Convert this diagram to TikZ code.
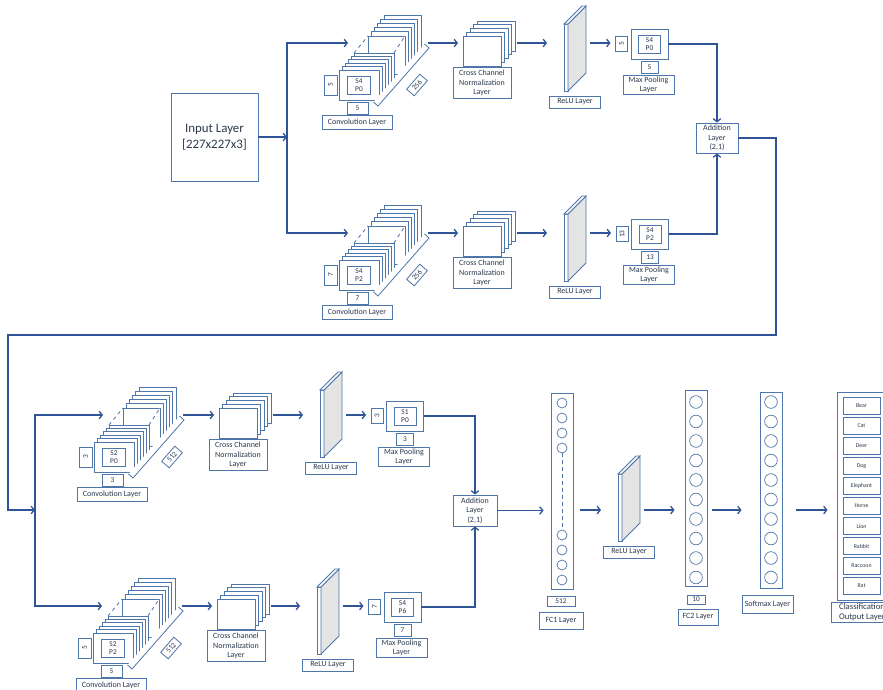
\documentclass[tikz,border=0pt]{standalone}
\usepackage{fontspec}
\setmainfont{Carlito}
\usepackage{tikz}
\usetikzlibrary{
arrows.meta,
calc
}
\definecolor{lineblue}{HTML}{2F5597}
\definecolor{boxblue}{HTML}{4F76A8}
\definecolor{slabgray}{HTML}{E4E4E4}
\definecolor{labeltext}{HTML}{2B3A4F}

\newcommand{\lblfont}{\fontsize{6.8}{8.2}\selectfont}
\newcommand{\tagfont}{\fontsize{6.3}{7.2}\selectfont}
\newcommand{\itemfont}{\fontsize{5}{6}\selectfont}
\newcommand{\inputfont}{\fontsize{11}{13.5}\selectfont}
\newcommand{\clsfont}{\fontsize{7.4}{8.8}\selectfont}

% convolution block: name, x, row y, stride/pad, kernel, filters
\newcommand{\convblock}[6]{%
  \begin{scope}[shift={(#2,#3+27)}]
    \foreach \i in {5,4,...,0}
      \draw[frame] (29+3.2*\i,-34-4.2*\i) rectangle ++(37,38);
    \draw[frame, dashed] (15,-17) -- (29,-34);
    \draw[frame, dashed] (55,-17) -- (66,-34);
    \draw[frame, dashed] (55,13) -- (66,4);
    \foreach \i in {5,4,...,0}
      \draw[frame] (3*\i,-3.4*\i) rectangle ++(40,30);
    \node[tag, minimum width=6.9mm, minimum height=5.4mm] (#1) at (20,15) {#4};
    \node[tag, rotate=90, minimum width=6mm, minimum height=3.9mm] (#1-k1) at (-8.5,15) {#5};
    \node[tag, minimum width=6.3mm, minimum height=3.6mm] (#1-k2) at (18.5,38) {#5};
    \node[lbl, minimum width=21mm, minimum height=4.2mm] (#1-lbl) at (18,52) {Convolution Layer};
    \draw[frame] (85.5,-26) -- (90,-22) -- (39,36) -- (34.5,32);
    \node[tag, rotate=49, minimum width=6mm, minimum height=3mm] (#1-d) at (78,15) {#6};
    \coordinate (#1-in) at (9,-27);
    \coordinate (#1-out) at (89,-27);
  \end{scope}}

% cross channel normalization block: name, x, row y
\newcommand{\ccnblock}[3]{%
  \begin{scope}[shift={(#2,#3-7)}]
    \foreach \i in {4,3,...,0}
      \draw[frame] (3.5*\i,-3.75*\i) rectangle ++(38,30);
    \node[lbl, minimum width=17.4mm, minimum height=9.3mm] (#1) at (19,47) {Cross Channel\\Normalization\\Layer};
    \coordinate (#1-in) at (-5,7);
    \coordinate (#1-out) at (54,7);
  \end{scope}}

% relu slab: [drop], name, x, row y
\newcommand{\relublock}[4][19]{%
  \begin{scope}[shift={(#3,#4-#1)}]
    \draw[frame] (0,0) rectangle (4,67);
    \draw[frame, fill=slabgray] (4,0) -- (22,-18) -- (22,49) -- (4,67) -- cycle;
    \draw[frame] (0,0) -- (18,-18) -- (22,-18) -- (4,0) -- cycle;
    \node[lbl, minimum width=15.3mm] (#2) at (11,78) {ReLU Layer};
    \coordinate (#2-in) at (-17,#1);
    \coordinate (#2-out) at (26,#1);
  \end{scope}}

% max pooling block: name, x, row y, stride/pad, pool size
\newcommand{\maxpool}[5]{%
  \begin{scope}[shift={(#2,#3)}]
    \node[frame, minimum width=11.1mm, minimum height=9mm] (#1) at (0,1) {};
    \node[tag, minimum width=6.6mm, minimum height=5.4mm] (#1-s) at (0,1) {#4};
    \node[tag, rotate=90, minimum width=4.5mm, minimum height=3.6mm] (#1-k1) at (-28,1) {#5};
    \node[tag, minimum width=5.1mm, minimum height=3.6mm] (#1-k2) at (0,24) {#5};
    \node[lbl, minimum width=15.3mm, minimum height=5.7mm] (#1-lbl) at (-1,42) {Max Pooling\\Layer};
    \coordinate (#1-in) at (-39,0);
  \end{scope}}

\begin{document}
\begin{tikzpicture}[x=0.3mm, y=-0.3mm,
  every node/.style={font=\lblfont, text=labeltext},
  frame/.style={draw=boxblue, line width=0.7pt, fill=white},
  lbl/.style={draw=boxblue, line width=0.8pt, fill=white, align=center, inner sep=1pt, minimum height=3.6mm},
  tag/.style={draw=boxblue, line width=0.7pt, fill=white, align=center, inner sep=0.8pt, font=\tagfont},
  arr/.style={draw=lineblue, line width=1.1pt, -{Straight Barb[length=2.6pt,width=6.5pt]}},
  fcbox/.style={draw=boxblue, line width=0.8pt, fill=white, minimum width=6.6mm, minimum height=58.8mm},
  unit/.style={draw=boxblue, line width=0.6pt}]
  \useasboundingbox (0,0) rectangle (883,689);
  \clip (0,0) rectangle (883,689);

  % Input
  \node[lbl, font=\inputfont, minimum width=26.1mm, minimum height=26.4mm] (input) at (214.5,137) {Input Layer\\ {[227x227x3]}};

  % First stage, two branches
  \convblock{convA}{339}{43}{S4\\P0}{5}{256}
  \convblock{convB}{339}{233}{S4\\P2}{7}{256}
  \ccnblock{ccnA}{463}{43}
  \ccnblock{ccnB}{463}{233}
  \relublock{reluA}{564}{43}
  \relublock{reluB}{564}{233}
  \maxpool{maxA}{649.5}{43}{S4\\P0}{5}
  \maxpool{maxB}{650}{233}{S4\\P2}{13}

  \coordinate (split1) at (287,137);
  \draw[arr] (input) -- (split1);
  \draw[arr] (split1) |- (convA-in);
  \draw[arr] (split1) |- (convB-in);
  \draw[arr] (convA-out) -- (ccnA-in);
  \draw[arr] (ccnA-out) -- (reluA-in);
  \draw[arr] (reluA-out) -- (maxA-in);
  \draw[arr] (convB-out) -- (ccnB-in);
  \draw[arr] (ccnB-out) -- (reluB-in);
  \draw[arr] (reluB-out) -- (maxB-in);

  \node[lbl, minimum width=12.6mm, minimum height=9mm] (add1) at (717,138) {Addition\\Layer\\(2,1)};
  \draw[arr] (maxA.east) -| (add1.north);
  \draw[arr] (maxB.east) -| (add1.south);

  % Return to second stage
  \coordinate (ret1) at (776,335);
  \coordinate (ret2) at (8,335);
  \coordinate (split2) at (35,510);
  \draw[arr] (add1.east) -| (ret1) -- (ret2) |- (split2);

  % Second stage, two branches
  \convblock{convC}{94}{415}{S2\\P0}{3}{512}
  \convblock{convD}{93}{606}{S2\\P2}{5}{512}
  \ccnblock{ccnC}{219}{415}
  \ccnblock{ccnD}{217}{606}
  \relublock[25]{reluC}{320}{415}
  \relublock{reluD}{317}{606}
  \maxpool{maxC}{405}{415}{S1\\P0}{3}
  \maxpool{maxD}{402.5}{606}{S4\\P6}{7}

  \draw[arr] (split2) |- (convC-in);
  \draw[arr] (split2) |- (convD-in);
  \draw[arr] (convC-out) -- (ccnC-in);
  \draw[arr] (ccnC-out) -- (reluC-in);
  \draw[arr] (reluC-out) -- (maxC-in);
  \draw[arr] (convD-out) -- (ccnD-in);
  \draw[arr] (ccnD-out) -- (reluD-in);
  \draw[arr] (reluD-out) -- (maxD-in);

  \node[lbl, minimum width=13.2mm, minimum height=9.3mm] (add2) at (475,510.5) {Addition\\Layer\\(2,1)};
  \draw[arr] (maxC.east) -| (add2.north);
  \draw[arr] (maxD.east) -| (add2.south);

  % Fully connected part
  \node[fcbox] (fc1) at (562,491) {};
  \foreach \y in {403,418,433,448,535,550,565,580}
    \draw[unit] (562,\y) circle[radius=1.5mm];
  \draw[unit, dashed] (562,453) -- (562,530);
  \node[tag, minimum width=8.4mm, minimum height=3mm] (fc1-n) at (561,601) {512};
  \node[lbl, minimum width=13.2mm, minimum height=5.1mm] (fc1-lbl) at (561,620.5) {FC1 Layer};
  \draw[arr, shorten >=2.1mm] (add2.east) -- (add2.east -| fc1.west);

  \relublock[36]{reluE}{618}{510}
  \draw[arr, shorten <=2.1mm] (fc1.east |- reluE-in) -- (reluE-in);

  \node[fcbox] (fc2) at (696,488) {};
  \foreach \i in {0,...,9}
    \draw[unit] (696,402+19.5*\i) circle[radius=1.9mm];
  \node[tag, minimum width=5.4mm, minimum height=2.7mm] (fc2-n) at (696,599.5) {10};
  \node[lbl, minimum width=12mm, minimum height=4.8mm] (fc2-lbl) at (698,617) {FC2 Layer};
  \draw[arr, shorten >=3mm] (reluE-out) -- (reluE-out -| fc2.west);

  \node[fcbox] (soft) at (771,490) {};
  \foreach \i in {0,...,9}
    \draw[unit] (771,402+19.5*\i) circle[radius=1.9mm];
  \node[lbl, minimum width=15.3mm, minimum height=5.4mm] (soft-lbl) at (767.5,604) {Softmax Layer};
  \draw[arr, shorten <=1.5mm, shorten >=5.4mm] (fc2.east |- reluE-out) -- (soft.west |- reluE-out);

  % Classification output
  \node[draw=boxblue, line width=0.8pt, fill=white, minimum width=17.4mm, minimum height=62.4mm] (cls) at (866,496) {};
  \foreach \name [count=\i from 0] in {Bear,Cat,Deer,Dog,Elephant,Horse,Lion,Rabbit,Raccoon,Rat}
    \node[tag, font=\itemfont, minimum width=11.1mm, minimum height=5.1mm] (cls\i) at (861.5,406+20*\i) {\name};
  \node[lbl, font=\clsfont, minimum width=18.6mm] (cls-lbl) at (862,612) {Classification\\Output Layer};
  \draw[arr, shorten <=4.2mm, shorten >=2.7mm] (soft.east |- reluE-out) -- (cls.west |- reluE-out);
\end{tikzpicture}
\end{document}
